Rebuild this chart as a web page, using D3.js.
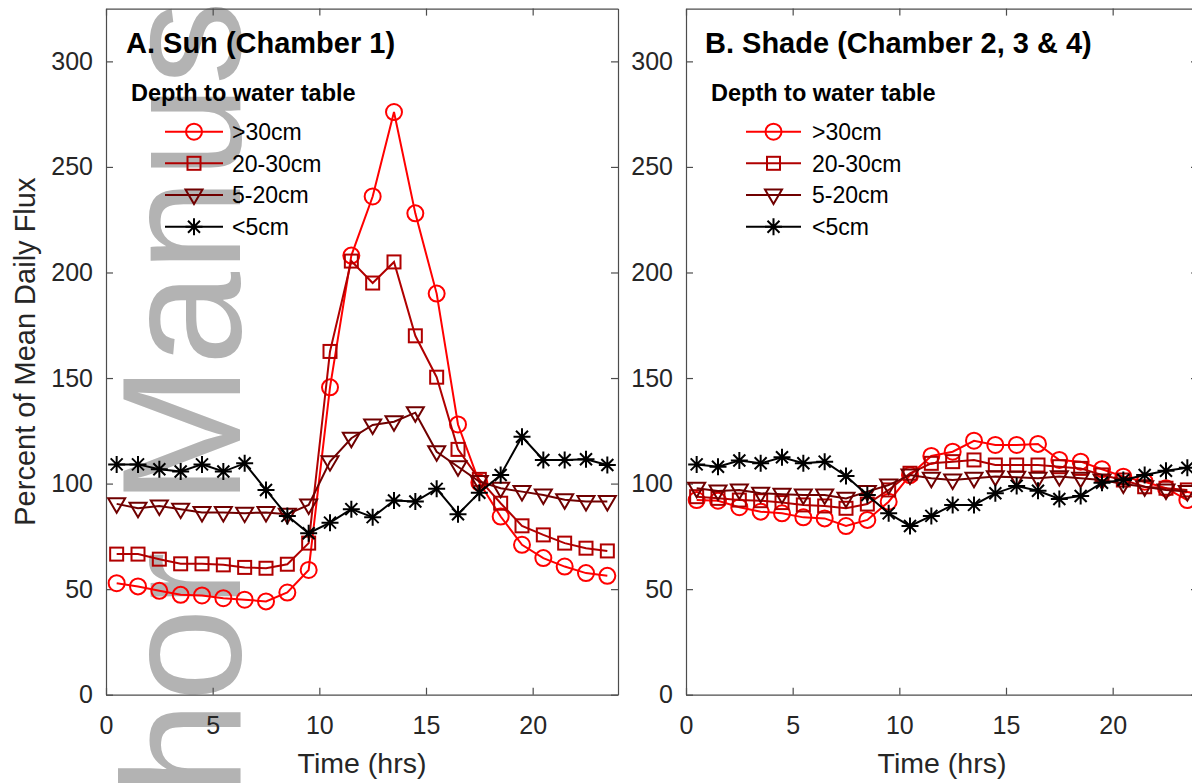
<!DOCTYPE html>
<html>
<head>
<meta charset="utf-8">
<script src="https://cdn.jsdelivr.net/npm/d3@7"></script>
<style>
  body { margin: 0; background: #fff; }
  svg { display: block; font-family: "Liberation Sans", Arial, sans-serif; }
  .axis path, .axis line { stroke: #4d4d4d; stroke-width: 1.2; }
  .axis text { fill: #262626; font-size: 25px; font-family: "Liberation Sans", Arial, sans-serif; }
</style>
</head>
<body>
<svg></svg>
<script>
// Data
const hours = [0.5, 1.5, 2.5, 3.5, 4.5, 5.5, 6.5, 7.5, 8.5, 9.5, 10.5, 11.5,
               12.5, 13.5, 14.5, 15.5, 16.5, 17.5, 18.5, 19.5, 20.5, 21.5, 22.5, 23.5];
const depthLabels = [">30cm", "20-30cm", "5-20cm", "<5cm"];
const xTicks = [0, 5, 10, 15, 20];
const yTicks = [0, 50, 100, 150, 200, 250, 300];
const panelTitles = ["A. Sun (Chamber 1)", "B. Shade (Chamber 2, 3 & 4)"];

// A. Sun
const sunDeep    = [52.8, 51.3, 49.2, 47.3, 47.0, 45.7, 45.0, 44.2, 48.4, 59.1, 145.6, 208,
                    236, 276, 228, 190, 128, 100.5, 84.4, 71, 64.7, 60.7, 57.6, 56.3];
const sunMid     = [66.6, 66.6, 64.2, 62, 62, 61.5, 60.3, 59.9, 61.8, 71.8, 162.6, 205.4,
                    195, 205, 170, 150.4, 116.2, 102, 90.7, 80, 75.7, 71.8, 69.4, 68.1];
const sunShallow = [90.4, 88.3, 89.4, 87.9, 86.3, 86.3, 86, 86.3, 85.5, 89.9, 110.4, 121.5,
                    127.8, 129.3, 133.6, 115.1, 108, 101, 97.8, 96.2, 94.6, 92.3, 91.5, 91.5];
const sunWet     = [109.1, 109.1, 106.8, 105.7, 109.1, 105.7, 109.6, 97, 84.7, 76.5, 81.5, 87.9,
                    84.1, 92, 91.5, 97.5, 85.5, 95.7, 104.1, 122.2, 111.2, 111.2, 111.5, 108.8];

// B. Shade
const shadeDeep    = [92.2, 91.9, 88.8, 86.7, 85.9, 84, 83.5, 79.9, 82.8, 91.4, 104, 113.1,
                      115.1, 120.3, 118.3, 118.3, 118.8, 111.2, 110.4, 106.8, 103.3, 100.9, 97.8, 92.2];
const shadeMid     = [93.8, 93, 92.2, 91.9, 91, 89.9, 89.4, 88.3, 90.3, 97, 104.9, 109.6,
                      110.4, 111.2, 108.8, 108.8, 108.8, 108, 107.2, 104.1, 101.7, 98.5, 97.8, 97];
const shadeShallow = [97.8, 96.5, 97, 95.4, 94.9, 94.6, 94.6, 93, 96.2, 99.3, 104.1, 102.5,
                      101.7, 102.5, 103.3, 103, 102.5, 103.3, 102.5, 101.7, 99.8, 98.5, 97, 96.2];
const shadeWet     = [109.1, 108, 110.9, 109.6, 112.5, 109.6, 110.4, 103.6, 94.6, 85.9, 79.9, 84.7,
                      89.9, 89.9, 95.4, 98.9, 96.6, 92.7, 94.1, 100.4, 101.7, 104.1, 106.1, 107.5];

// Sizes
const width = 1192, height = 783;
const plotTop = 8.6, plotBottom = 694.7, plotWidth = 512;

const svg = d3.select("svg")
  .attr("width", width)
  .attr("height", height);

// watermark (behind everything)
svg.append("text")
  .attr("transform", "translate(240,1047) rotate(-90)")
  .attr("font-size", 168)
  .attr("fill", "#b3b3b3")
  .text("Author Manuscript");

const yScale = d3.scaleLinear().domain([0, 325]).range([plotBottom, plotTop]);

const styles = [
  { color: "#ff0000", marker: "circle" },
  { color: "#b00000", marker: "square" },
  { color: "#700000", marker: "triangle" },
  { color: "#000000", marker: "star" }
];

function marker(g, type, color) {
  const common = s => s.attr("fill", "none").attr("stroke", color).attr("stroke-width", 2);
  if (type === "circle") g.append("circle").attr("r", 8).call(common);
  else if (type === "square") g.append("rect").attr("x", -6.5).attr("y", -6.5).attr("width", 13).attr("height", 13).call(common);
  else if (type === "triangle") g.append("path").attr("d", "M-8.5,-5.5L8.5,-5.5L0,9Z").call(common);
  else g.append("path").attr("d", "M0,-8.5V8.5M-8.5,0H8.5M-6,-6L6,6M-6,6L6,-6").call(common);
}

const panels = [
  { left: 106, data: [sunDeep, sunMid, sunShallow, sunWet],
    titleX: 126, legTitleX: 131, legLine: [165, 223], legText: 232 },
  { left: 686, data: [shadeDeep, shadeMid, shadeShallow, shadeWet],
    titleX: 705, legTitleX: 711, legLine: [746, 801], legText: 812 }
];

const legendRows = [131.7, 163.3, 195, 226.7];

panels.forEach((p, pi) => {
  const xScale = d3.scaleLinear().domain([0, 24]).range([p.left, p.left + plotWidth]);

  // axes: box with inward ticks
  svg.append("g").attr("class", "axis")
    .attr("transform", `translate(0,${plotBottom})`)
    .call(d3.axisBottom(xScale).tickValues(xTicks).tickSize(-7).tickSizeOuter(0).tickPadding(22));
  svg.append("g").attr("class", "axis")
    .attr("transform", `translate(0,${plotTop})`)
    .call(d3.axisTop(xScale).tickValues(xTicks).tickSize(-7).tickSizeOuter(0).tickFormat(""));
  svg.append("g").attr("class", "axis")
    .attr("transform", `translate(${p.left},0)`)
    .call(d3.axisLeft(yScale).tickValues(yTicks).tickSize(-7).tickSizeOuter(0).tickPadding(13));
  svg.append("g").attr("class", "axis")
    .attr("transform", `translate(${p.left + plotWidth},0)`)
    .call(d3.axisRight(yScale).tickValues(yTicks).tickSize(-7).tickSizeOuter(0).tickFormat(""));
  svg.selectAll(".axis .domain").attr("fill", "none");
  svg.selectAll(".axis text").attr("font-size", 25);

  // series
  const line = d3.line().x(d => xScale(d[0])).y(d => yScale(d[1]));
  p.data.forEach((vals, si) => {
    const pts = hours.map((h, i) => [h, vals[i]]);
    const st = styles[si];
    svg.append("path")
      .attr("d", line(pts))
      .attr("fill", "none")
      .attr("stroke", st.color)
      .attr("stroke-width", 2);
    pts.forEach(d => {
      const g = svg.append("g").attr("transform", `translate(${xScale(d[0])},${yScale(d[1])})`);
      marker(g, st.marker, st.color);
    });
  });

  // title
  svg.append("text")
    .attr("x", p.titleX).attr("y", 52.5)
    .attr("font-size", 29).attr("font-weight", "bold")
    .attr("fill", "#000")
    .text(panelTitles[pi]);

  // legend
  svg.append("text")
    .attr("x", p.legTitleX).attr("y", 101)
    .attr("font-size", 23.5).attr("font-weight", "bold")
    .attr("fill", "#000")
    .text("Depth to water table");

  depthLabels.forEach((lab, i) => {
    const y = legendRows[i];
    const st = styles[i];
    svg.append("line")
      .attr("x1", p.legLine[0]).attr("x2", p.legLine[1])
      .attr("y1", y).attr("y2", y)
      .attr("stroke", st.color).attr("stroke-width", 2);
    const g = svg.append("g").attr("transform", `translate(${(p.legLine[0] + p.legLine[1]) / 2},${y})`);
    marker(g, st.marker, st.color);
    svg.append("text")
      .attr("x", p.legText).attr("y", y)
      .attr("dy", "0.36em")
      .attr("font-size", 23)
      .attr("fill", "#000")
      .text(lab);
  });

  // x label
  svg.append("text")
    .attr("x", p.left + plotWidth / 2).attr("y", 773)
    .attr("text-anchor", "middle")
    .attr("font-size", 28.5)
    .attr("fill", "#262626")
    .text("Time (hrs)");
});

// y label
svg.append("text")
  .attr("transform", `translate(35,${(plotTop + plotBottom) / 2}) rotate(-90)`)
  .attr("text-anchor", "middle")
  .attr("font-size", 29)
  .attr("fill", "#262626")
  .text("Percent of Mean Daily Flux");
</script>
</body>
</html>
